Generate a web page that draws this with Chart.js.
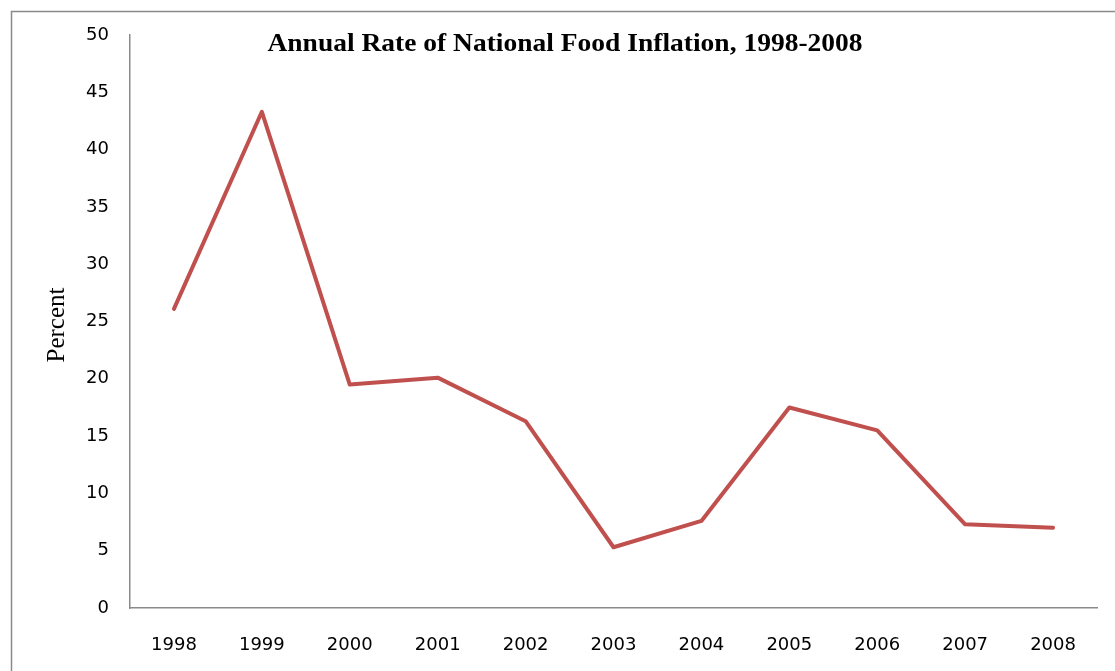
<!DOCTYPE html>
<html>
<head>
<meta charset="utf-8">
<script src="https://cdn.jsdelivr.net/npm/chart.js@4/dist/chart.umd.min.js"></script>
<style>
  html, body { margin: 0; padding: 0; background: #fff; }
  #wrap { width: 1115px; height: 671px; }
</style>
</head>
<body>
<div id="wrap"><canvas id="c" width="1115" height="671"></canvas></div>
<script>
// Annual food inflation, percent
const years = ['1998','1999','2000','2001','2002','2003','2004','2005','2006','2007','2008'];
const inflation = [26.1, 43.3, 19.5, 20.1, 16.3, 5.3, 7.6, 17.5, 15.5, 7.3, 7.0];
const yTicks = [0, 5, 10, 15, 20, 25, 30, 35, 40, 45, 50];
const chartTitle = 'Annual Rate of National Food Inflation, 1998-2008';
const yTitle = 'Percent';

// Outer frame, title and rotated axis label
const decorations = {
  id: 'decorations',
  beforeDraw(chart) {
    const ctx = chart.ctx;
    ctx.save();
    ctx.fillStyle = '#fff';
    ctx.fillRect(0, 0, chart.width, chart.height);
    ctx.strokeStyle = '#8a8a8a';
    ctx.lineWidth = 1.5;
    ctx.strokeRect(11.5, 11.5, chart.width + 50, chart.height + 50);
    ctx.restore();
  },
  afterDraw(chart) {
    const ctx = chart.ctx;
    ctx.save();
    ctx.fillStyle = '#000';
    ctx.textAlign = 'center';
    ctx.textBaseline = 'middle';
    ctx.save();
    ctx.translate(565, 45);
    ctx.scale(1.1, 1);
    ctx.font = 'bold 25px "Liberation Serif", serif';
    ctx.fillText(chartTitle, 0, 0);
    ctx.restore();
    ctx.translate(57, 325);
    ctx.rotate(-Math.PI / 2);
    ctx.font = '25px "Liberation Serif", serif';
    ctx.fillText(yTitle, 0, 0);
    ctx.restore();
  }
};

new Chart(document.getElementById('c'), {
  type: 'line',
  data: {
    labels: years,
    datasets: [{
      data: inflation,
      borderColor: '#C0504D',
      borderWidth: 4,
      borderCapStyle: 'round',
      borderJoinStyle: 'round',
      pointRadius: 0,
      tension: 0,
      fill: false
    }]
  },
  options: {
    responsive: false,
    animation: false,
    layout: { padding: { left: 0, right: 18, top: 35, bottom: 0 } },
    plugins: {
      legend: { display: false },
      title: { display: false },
      tooltip: { enabled: false }
    },
    scales: {
      x: {
        offset: true,
        grid: { display: false, drawTicks: false },
        border: { display: true, color: '#8a8a8a', width: 1.5 },
        ticks: {
          color: '#000',
          font: { family: '"DejaVu Sans", sans-serif', size: 18 },
          padding: 27,
          maxRotation: 0,
          autoSkip: false
        },
        afterFit(scale) { scale.height = 63; }
      },
      y: {
        min: 0,
        max: 50,
        afterBuildTicks(scale) { scale.ticks = yTicks.map(v => ({ value: v })); },
        grid: { display: false, drawTicks: false },
        border: { display: true, color: '#8a8a8a', width: 1.5 },
        ticks: {
          color: '#000',
          font: { family: '"DejaVu Sans", sans-serif', size: 18 },
          padding: 21
        },
        afterFit(scale) { scale.width = 130; }
      }
    }
  },
  plugins: [decorations]
});
</script>
</body>
</html>
